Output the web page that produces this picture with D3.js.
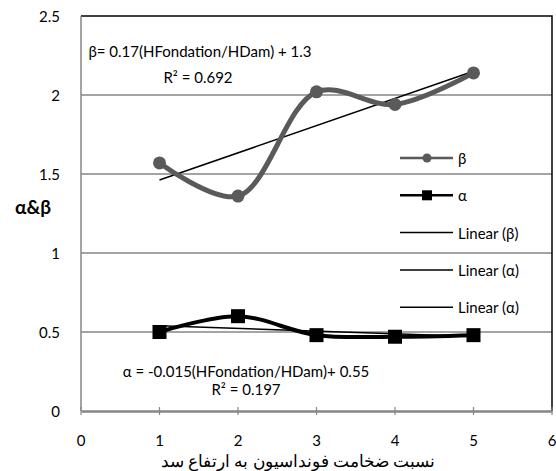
<!DOCTYPE html>
<html>
<head>
<meta charset="utf-8">
<script src="https://cdn.jsdelivr.net/npm/d3@7"></script>
<style>
  body { margin: 0; background: #fff; }
  text { font-family: Lato, "Open Sans", sans-serif; fill: #000; }
</style>
</head>
<body>
<svg width="556" height="471"></svg>
<script>
// data
const ratio = [1, 2, 3, 4, 5];
const beta = [1.57, 1.36, 2.02, 1.94, 2.14];
const alpha = [0.50, 0.60, 0.48, 0.47, 0.48];
const xTicks = [0, 1, 2, 3, 4, 5, 6];
const yTicks = [0, 0.5, 1, 1.5, 2, 2.5];
const legendItems = ["β", "α", "Linear (β)", "Linear (α)", "Linear (α)"];

const svg = d3.select("svg");
const x = d3.scaleLinear().domain([0, 6]).range([81, 552]);
const y = d3.scaleLinear().domain([0, 2.5]).range([411, 16]);

// least squares fit
function fit(xs, ys) {
  const mx = d3.mean(xs), my = d3.mean(ys);
  const slope = d3.sum(xs, (v, i) => (v - mx) * (ys[i] - my)) / d3.sum(xs, v => (v - mx) ** 2);
  return { slope, intercept: my - slope * mx };
}

// gridlines
svg.append("g").selectAll("line")
  .data(yTicks.filter(t => t > 0 && t < 2.5))
  .join("line")
  .attr("x1", x(0)).attr("x2", x(6))
  .attr("y1", d => y(d)).attr("y2", d => y(d))
  .attr("stroke", "#868686").attr("stroke-width", 1.5);

// plot border (top/right)
svg.append("path")
  .attr("d", `M${x(0)},${y(2.5)}H${x(6)}V${y(0)}`)
  .attr("fill", "none").attr("stroke", "#000").attr("stroke-width", 1.5);

// y axis line
svg.append("line")
  .attr("x1", x(0)).attr("x2", x(0)).attr("y1", y(0)).attr("y2", y(2.5))
  .attr("stroke", "#868686").attr("stroke-width", 1.5);

// x axis
const xAxis = svg.append("g").attr("transform", `translate(0,${y(0)})`)
  .call(d3.axisBottom(x).tickValues(xTicks).tickSize(0).tickFormat(""));
xAxis.select(".domain").attr("stroke", "#868686").attr("stroke-width", 2.5);
svg.append("g").selectAll("line")
  .data(xTicks)
  .join("line")
  .attr("x1", d => x(d)).attr("x2", d => x(d))
  .attr("y1", y(0) - 4).attr("y2", y(0) + 4)
  .attr("stroke", "#868686").attr("stroke-width", 1.2);

svg.append("g").selectAll("text")
  .data(xTicks)
  .join("text")
  .attr("x", d => x(d)).attr("y", 440)
  .attr("text-anchor", "middle").attr("dominant-baseline", "central")
  .attr("font-size", 15)
  .text(d => d);

svg.append("g").selectAll("text")
  .data(yTicks)
  .join("text")
  .attr("x", 60).attr("y", d => y(d))
  .attr("text-anchor", "end").attr("dominant-baseline", "central")
  .attr("font-size", 15)
  .text(d => d);

// axis titles
svg.append("text")
  .attr("x", 298).attr("y", 461)
  .attr("text-anchor", "middle").attr("dominant-baseline", "central")
  .attr("font-family", "'DejaVu Sans', sans-serif")
  .attr("font-size", 16.5)
  .text("نسبت ضخامت فونداسیون به ارتفاع سد");

svg.append("text")
  .attr("x", 33).attr("y", 206)
  .attr("text-anchor", "middle").attr("dominant-baseline", "central")
  .attr("font-size", 19).attr("font-weight", "bold")
  .text("α&β");

// trend lines
const bFit = fit(ratio, beta);
const aFit = fit(ratio, alpha);
[bFit, aFit].forEach(f => {
  svg.append("line")
    .attr("x1", x(1)).attr("y1", y(f.intercept + f.slope * 1))
    .attr("x2", x(5)).attr("y2", y(f.intercept + f.slope * 5))
    .attr("stroke", "#000").attr("stroke-width", 1.5);
});

// smoothed series
const line = d3.line().curve(d3.curveCatmullRom.alpha(0.5));

svg.append("path")
  .attr("d", line(ratio.map((r, i) => [x(r), y(alpha[i])])))
  .attr("fill", "none").attr("stroke", "#000").attr("stroke-width", 4);
svg.append("g").selectAll("rect")
  .data(ratio)
  .join("rect")
  .attr("x", d => x(d) - 7).attr("y", (d, i) => y(alpha[i]) - 7)
  .attr("width", 14).attr("height", 14)
  .attr("fill", "#000");

svg.append("path")
  .attr("d", line(ratio.map((r, i) => [x(r), y(beta[i])])))
  .attr("fill", "none").attr("stroke", "#5a5a5a").attr("stroke-width", 5);
svg.append("g").selectAll("circle")
  .data(ratio)
  .join("circle")
  .attr("cx", d => x(d)).attr("cy", (d, i) => y(beta[i]))
  .attr("r", 6.5)
  .attr("fill", "#5a5a5a");

// equations
const eq = svg.append("g").attr("font-size", 15).attr("text-anchor", "middle");
eq.append("text").attr("x", 200).attr("y", 51).attr("dominant-baseline", "central")
  .text(`β= ${bFit.slope.toFixed(2)}(HFondation/HDam) + ${bFit.intercept.toFixed(1)}`);
eq.append("text").attr("x", 198).attr("y", 77).attr("dominant-baseline", "central")
  .text("R² = 0.692");
eq.append("text").attr("x", 246).attr("y", 371).attr("dominant-baseline", "central")
  .text("α = -0.015(HFondation/HDam)+ 0.55");
eq.append("text").attr("x", 246).attr("y", 389).attr("dominant-baseline", "central")
  .text("R² = 0.197");

// legend
const legend = svg.append("g").selectAll("g")
  .data(legendItems)
  .join("g")
  .attr("transform", (d, i) => `translate(400,${158 + i * 37.3})`);
legend.append("line")
  .attr("x1", 0).attr("x2", 53)
  .attr("stroke", (d, i) => i === 0 ? "#5a5a5a" : "#000")
  .attr("stroke-width", (d, i) => i < 2 ? 2.5 : 1.5);
legend.filter((d, i) => i === 0).append("circle")
  .attr("cx", 27).attr("r", 4.5).attr("fill", "#5a5a5a");
legend.filter((d, i) => i === 1).append("rect")
  .attr("x", 22).attr("y", -5).attr("width", 10).attr("height", 10).attr("fill", "#000");
legend.append("text")
  .attr("x", 58).attr("dominant-baseline", "central")
  .attr("font-size", 15)
  .text(d => d);
</script>
</body>
</html>
